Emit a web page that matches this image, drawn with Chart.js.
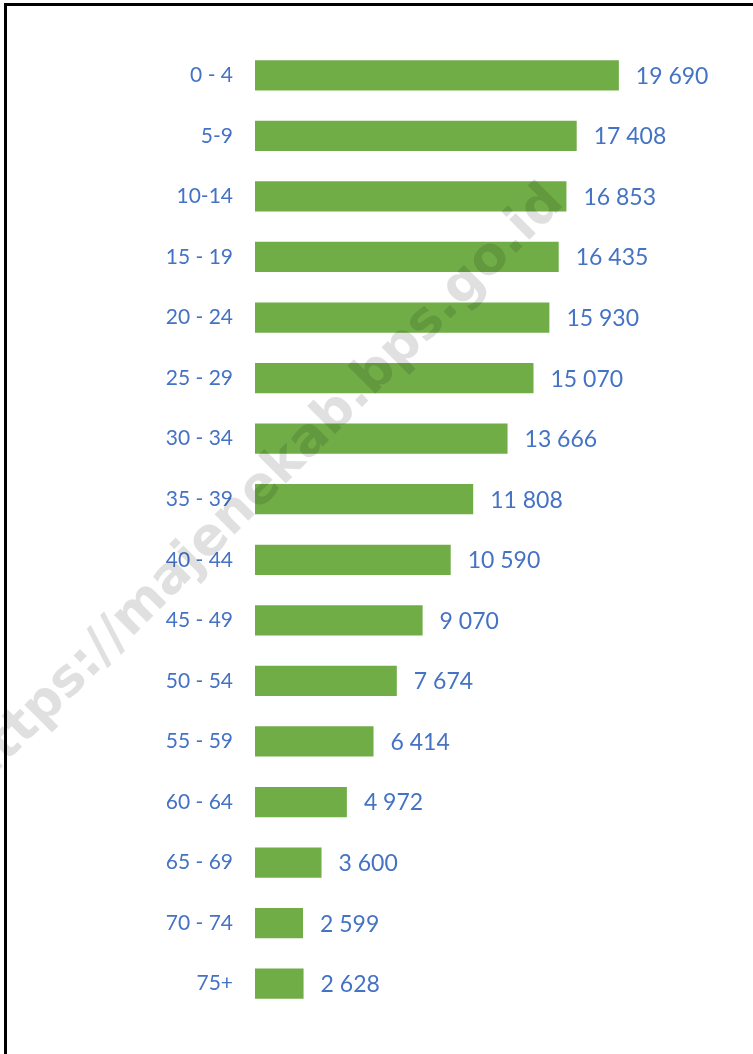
<!DOCTYPE html>
<html>
<head>
<meta charset="utf-8">
<script src="https://cdn.jsdelivr.net/npm/chart.js@4"></script>
<style>
  html, body { margin: 0; padding: 0; background: #ffffff; overflow: hidden; }
  #frame { position: absolute; left: 4px; top: 3px; width: 800px; height: 1100px; border: 3px solid #000; box-sizing: border-box; z-index: 2; pointer-events: none; }
  #wrap { position: absolute; left: 0; top: 0; width: 753px; height: 1054px; z-index: 1; }
</style>
</head>
<body>
<div id="wrap"><canvas id="c" width="753" height="1054"></canvas></div>
<div id="frame"></div>
<script>
const categories = ["0 - 4","5-9","10-14","15 - 19","20 - 24","25 - 29","30 - 34","35 - 39","40 - 44","45 - 49","50 - 54","55 - 59","60 - 64","65 - 69","70 - 74","75+"];
const population = [19690,17408,16853,16435,15930,15070,13666,11808,10590,9070,7674,6414,4972,3600,2599,2628];
const watermarkText = "https://majenekab.bps.go.id";

const BAR = "#70AD47";
const TEXT = "#4472C4";
const FONT = "Lato, 'Open Sans', sans-serif";

function fmt(v) { return String(v).replace(/\B(?=(\d{3})+(?!\d))/g, " "); }

const valueLabels = {
  id: "valueLabels",
  afterDatasetsDraw(chart) {
    const ctx = chart.ctx;
    const meta = chart.getDatasetMeta(0);
    ctx.save();
    ctx.fillStyle = TEXT;
    ctx.font = "23px " + FONT;
    ctx.textAlign = "left";
    ctx.textBaseline = "middle";
    meta.data.forEach((bar, i) => {
      ctx.fillText(fmt(chart.data.datasets[0].data[i]), bar.x + 17, bar.y + 1);
    });
    ctx.restore();
  }
};

const watermark = {
  id: "watermark",
  afterDraw(chart) {
    const ctx = chart.ctx;
    ctx.save();
    ctx.translate(263, 487);
    ctx.rotate(-Math.PI / 4);
    ctx.font = "bold 52px 'DejaVu Sans', sans-serif";
    ctx.fillStyle = "rgba(0,0,0,0.12)";
    ctx.textAlign = "center";
    ctx.textBaseline = "middle";
    ctx.fillText(watermarkText, 0, 0);
    ctx.restore();
  }
};

new Chart(document.getElementById("c"), {
  type: "bar",
  data: {
    labels: categories,
    datasets: [{
      data: population,
      backgroundColor: BAR,
      borderWidth: 0,
      barPercentage: 0.5,
      categoryPercentage: 1.0
    }]
  },
  options: {
    indexAxis: "y",
    responsive: false,
    animation: false,
    layout: { padding: { top: 45, bottom: 40, right: 36, left: 0 } },
    plugins: { legend: { display: false }, tooltip: { enabled: false } },
    scales: {
      x: { display: false, min: 0, max: 25000 },
      y: {
        grid: { display: false, drawBorder: false },
        border: { display: false },
        ticks: { color: TEXT, font: { family: FONT, size: 21 }, padding: 14 },
        afterFit(scale) { scale.width = 255; }
      }
    }
  },
  plugins: [valueLabels, watermark]
});
</script>
</body>
</html>
